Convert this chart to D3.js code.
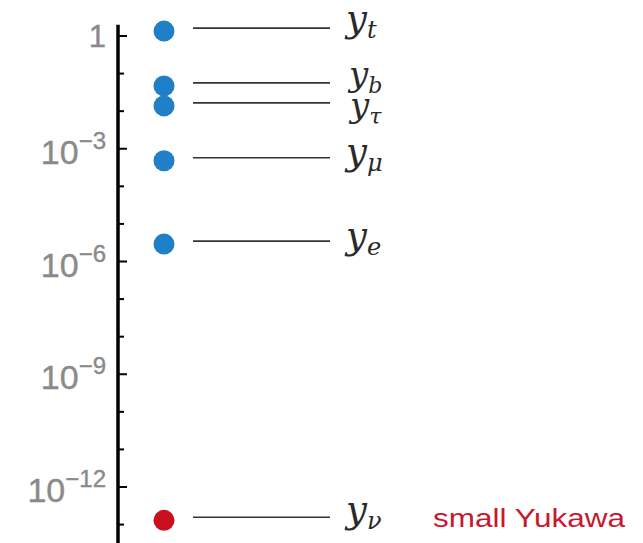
<!DOCTYPE html>
<html>
<head>
<meta charset="utf-8">
<script src="https://cdn.jsdelivr.net/npm/d3@7"></script>
<style>
  html, body { margin: 0; padding: 0; background: #fff; }
  svg { display: block; }
</style>
</head>
<body>
<svg id="chart" width="643" height="543"></svg>
<script>
// Yukawa couplings of the fermions, on a log scale
const couplings = ["t", "b", "τ", "μ", "e", "ν"];
const values = [1.35, 0.047, 0.0138, 4.8e-4, 2.9e-6, 1.3e-13];
const small = [false, false, false, false, false, true];
const tickExponents = [0, -1, -2, -3, -4, -5, -6, -7, -8, -9, -10, -11, -12, -13];
const labelExponents = [0, -3, -6, -9, -12];
const note = "small Yukawa";

const svg = d3.select("#chart");
const W = 643, H = 543;

const y = d3.scaleLog().domain([1e-12, 1]).range([487, 36]);

const axisX = 118;
const dotX = 164;
const lineX0 = 193, lineX1 = 330;
const labelX = 346;

// label fine-tuning for the crowded labels near the top
const labelDy = { t: 3, b: 3, "τ": 14, "μ": 6, e: 7, "ν": 5 };
const labelDx = { b: 3, "τ": 4 };
const labelSize = { b: 34, "τ": 34 };

// axis spine
svg.append("line")
  .attr("x1", axisX).attr("x2", axisX)
  .attr("y1", y(10 ** 0.3)).attr("y2", H)
  .attr("stroke", "#000").attr("stroke-width", 3.5);

// decade ticks pointing right
svg.append("g").selectAll("line")
  .data(tickExponents)
  .join("line")
  .attr("x1", axisX)
  .attr("x2", d => labelExponents.includes(d) ? axisX + 9 : axisX + 6)
  .attr("y1", d => y(10 ** d)).attr("y2", d => y(10 ** d))
  .attr("stroke", "#000").attr("stroke-width", 2);

// tick labels
const tl = svg.append("g")
  .attr("font-family", "Liberation Sans, Arial, sans-serif")
  .attr("fill", "#8a8a8a")
  .attr("stroke", "#8a8a8a")
  .attr("stroke-width", 0.4);
labelExponents.forEach(e => {
  const t = tl.append("text")
    .attr("x", 106)
    .attr("y", y(10 ** e) + (e === 0 ? 11 : 15))
    .attr("text-anchor", "end")
    .attr("font-size", 34);
  if (e === 0) {
    t.attr("font-size", 31).text("1");
  } else {
    t.append("tspan").text("10");
    t.append("tspan").attr("dy", -15).attr("font-size", 24).text("−" + Math.abs(e));
  }
});

// connector lines
svg.append("g").selectAll("line")
  .data(couplings)
  .join("line")
  .attr("x1", lineX0).attr("x2", lineX1)
  .attr("y1", (d, i) => y(values[i]) - 3)
  .attr("y2", (d, i) => y(values[i]) - 3)
  .attr("stroke", "#333").attr("stroke-width", 1.6);

// coupling dots
svg.append("g").selectAll("circle")
  .data(couplings)
  .join("circle")
  .attr("cx", dotX)
  .attr("cy", (d, i) => y(values[i]))
  .attr("r", 10.5)
  .attr("fill", (d, i) => small[i] ? "#c8101e" : "#1f80c8");

// math labels y_f
const ml = svg.append("g")
  .attr("font-family", "DejaVu Serif, serif")
  .attr("font-style", "italic")
  .attr("fill", "#2a2a2a");
couplings.forEach((c, i) => {
  const fs = labelSize[c] || 37;
  const t = ml.append("text")
    .attr("x", labelX + (labelDx[c] || 0))
    .attr("y", y(values[i]) - 3 + labelDy[c])
    .attr("font-size", fs);
  t.append("tspan").text("y");
  t.append("tspan").attr("dy", 7).attr("font-size", fs * 0.65).text(c);
});

// annotation for the neutrino coupling
svg.append("text")
  .attr("x", 433)
  .attr("y", y(values[5]) + 7)
  .attr("font-family", "Liberation Sans, Arial, sans-serif")
  .attr("font-size", 25)
  .attr("fill", "#c8182e")
  .attr("textLength", 192)
  .attr("lengthAdjust", "spacingAndGlyphs")
  .text(note);
</script>
</body>
</html>
